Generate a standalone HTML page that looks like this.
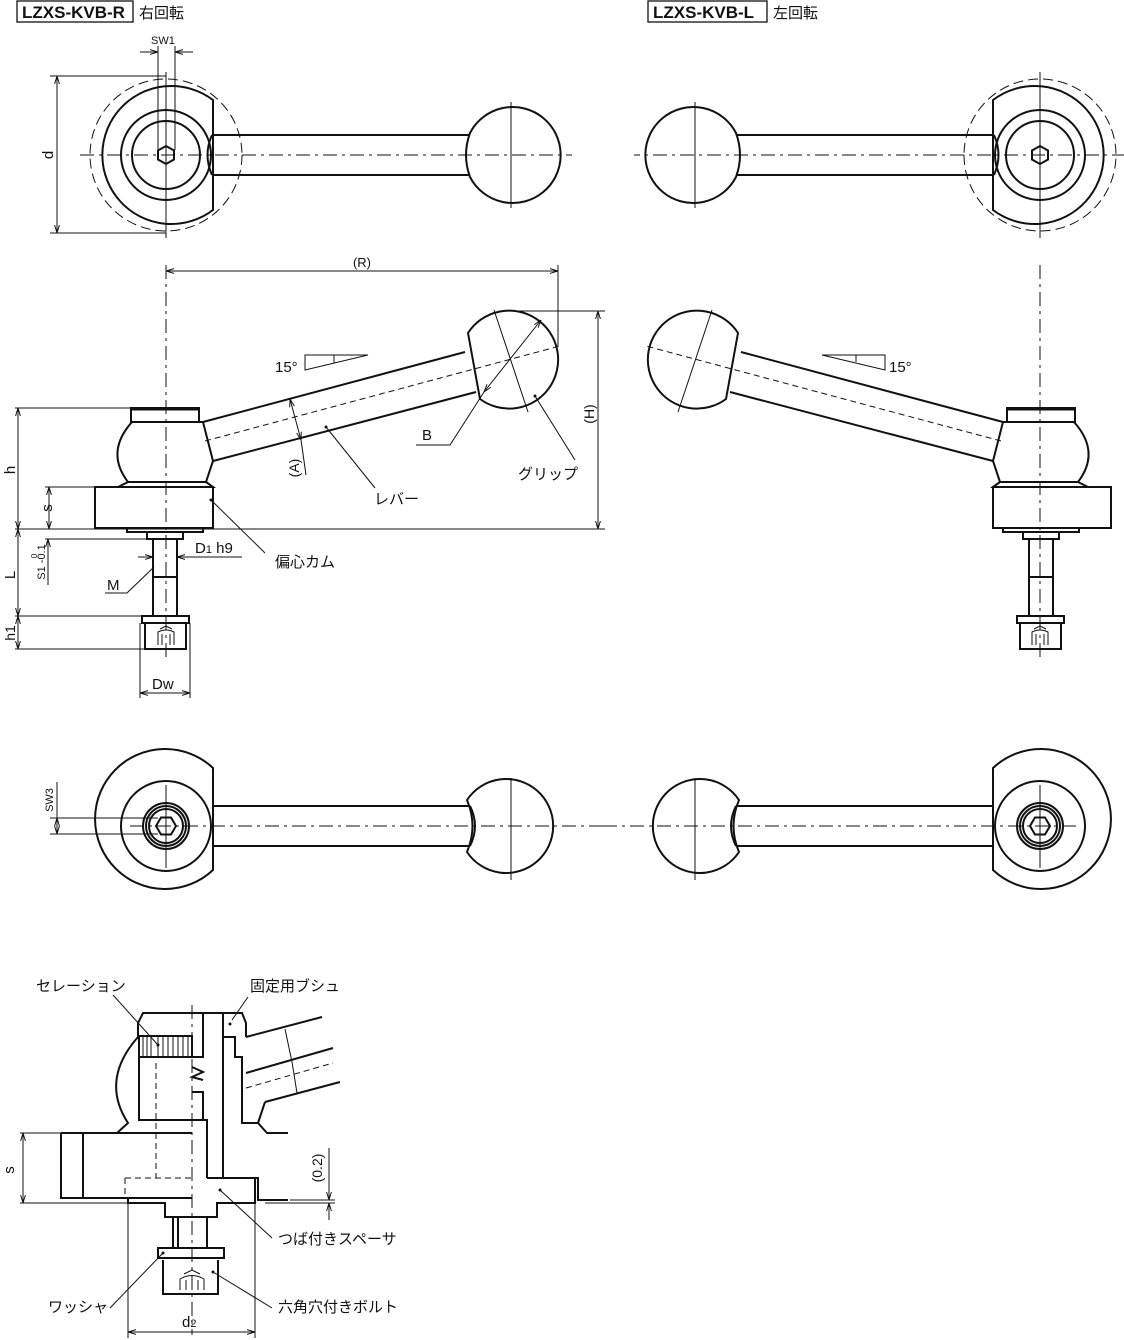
<!DOCTYPE html>
<html><head><meta charset="utf-8"><style>
html,body{margin:0;padding:0;background:#fff;}
svg{display:block;}
text{font-family:"Liberation Sans","Noto Sans CJK JP",sans-serif;fill:#111;}
.o{fill:none;stroke:#111;stroke-width:2;}
.t{fill:none;stroke:#111;stroke-width:1;}
.d{fill:none;stroke:#111;stroke-width:1;stroke-dasharray:14 5 3 5;}
.h{fill:none;stroke:#111;stroke-width:1;stroke-dasharray:6 4;}
.w{fill:#fff;stroke:#111;stroke-width:2;}
</style></head><body>
<svg width="1124" height="1340" viewBox="0 0 1124 1340" xmlns="http://www.w3.org/2000/svg">
<defs>
<marker id="a" viewBox="0 0 10 10" refX="10" refY="5" markerWidth="8" markerHeight="8" orient="auto-start-reverse"><path d="M0,2 L10,5 L0,8" fill="none" stroke="#111" stroke-width="1.2"/></marker>
<g id="top">
 <circle cx="166" cy="155" r="76" class="t" stroke-dasharray="10 5" />
 <path d="M213,100 A69,69 0 1 0 213,210 Z" class="o"/>
 <circle cx="166" cy="155" r="45" class="o"/>
 <circle cx="166" cy="155" r="34" class="o" stroke-width="3"/>
 <polygon points="166,146 174,150.5 174,159.5 166,164 158,159.5 158,150.5" class="o" stroke-width="1.3"/>
 <path d="M212,135 L470,135 M212,175 L470,175" class="o"/>
 <path d="M212,135 Q203,155 212,175" class="o"/>
 <path d="M470,133 A48,48 0 1 1 470,177 Q462,155 470,133 Z" class="o"/>
 <line x1="80" y1="155" x2="572" y2="155" class="d"/>
 <line x1="166" y1="72" x2="166" y2="238" class="t"/>
 <line x1="511" y1="102" x2="511" y2="208" class="t"/>
</g>
<g id="side">
 <line x1="166" y1="265" x2="166" y2="660" class="d"/>
 <rect x="131" y="408" width="68" height="14" class="o"/>
 <line x1="131" y1="409" x2="199" y2="409" stroke="#111" stroke-width="3"/>
 <path d="M132,422 Q105,452 128,482 L206,482 L213,461 L203,422 Z" class="o"/>
 <path d="M128,482 L118,487 L213,487 L206,482" class="o"/>
 <rect x="95" y="487" width="118" height="41" class="o"/>
 <rect x="127" y="528" width="76" height="4" class="o"/>
 <rect x="147" y="532" width="36" height="7" class="o"/>
 <path d="M153,539 L153,616 M177,539 L177,616 M153,577 L177,577" class="o"/>
 <rect x="142" y="616" width="47" height="7" class="o"/>
 <path d="M145,623 L145,649 L186,649 L186,623" class="o"/>
 <path d="M158,645 L158,632 Q166,628 174,632 L174,645 M162,645 L162,634 M170,645 L170,634 M160,629 L166,626 L172,629" class="t"/>
 <path d="M203,422 L465,352 M213,461 L476,392" class="o"/>
 <path d="M468,333 A49,49 0 1 1 480,399 L468,333 Z" class="o"/>
 <line x1="205" y1="441" x2="560" y2="346" class="h"/>
 <line x1="494" y1="310" x2="528" y2="412" class="t"/>
</g>
<g id="bot">
 <path d="M213,768 A70,70 0 1 0 213,870 Z" class="o"/>
 <circle cx="166" cy="826" r="45" class="o"/>
 <circle cx="166" cy="826" r="23" class="o"/>
 <circle cx="166" cy="826" r="20" class="o"/>
 <circle cx="166" cy="826" r="17" class="o"/>
 <polygon points="156,826 161,817.5 171,817.5 176,826 171,834.5 161,834.5" class="o" stroke-width="1.3"/>
 <path d="M213,806 L470,806 M213,846 L470,846" class="o"/>
 <path d="M470,806 Q480,826 470,846" class="o"/>
 <path d="M467,800 A47,47 0 1 1 467,852 Q478,826 467,800 Z" class="o"/>
 <line x1="130" y1="826" x2="605" y2="826" class="d"/>
 <line x1="166" y1="785" x2="166" y2="868" class="t"/>
 <line x1="511" y1="778" x2="511" y2="880" class="t"/>
</g>
</defs>

<!-- titles -->
<rect x="17" y="1" width="116" height="21" fill="none" stroke="#111" stroke-width="1.3"/>
<text x="22" y="18" font-size="17" font-weight="bold">LZXS-KVB-R</text>
<text x="139" y="18" font-size="15">右回転</text>
<rect x="648" y="1" width="119" height="21" fill="none" stroke="#111" stroke-width="1.3"/>
<text x="653" y="18" font-size="17" font-weight="bold">LZXS-KVB-L</text>
<text x="773" y="18" font-size="15">左回転</text>

<use href="#top"/>
<use href="#top" transform="translate(1206,0) scale(-1,1)"/>
<use href="#side"/>
<use href="#side" transform="translate(1206,0) scale(-1,1)"/>
<use href="#bot"/>
<use href="#bot" transform="translate(1206,0) scale(-1,1)"/>

<!-- top view dims -->
<text x="151" y="44" font-size="11">SW1</text>
<path d="M158,46 L158,150 M175,46 L175,150" class="t"/>
<line x1="140" y1="52" x2="158" y2="52" class="t" marker-end="url(#a)"/>
<line x1="193" y1="52" x2="175" y2="52" class="t" marker-end="url(#a)"/>
<path d="M50,76 L166,76 M50,233 L166,233" class="t"/>
<line x1="57" y1="76" x2="57" y2="233" class="t" marker-start="url(#a)" marker-end="url(#a)"/>
<text x="0" y="0" font-size="15" transform="translate(53,155) rotate(-90)" text-anchor="middle">d</text>

<!-- side view dims left -->
<line x1="166" y1="271" x2="558" y2="271" class="t" marker-start="url(#a)" marker-end="url(#a)"/>
<line x1="558" y1="265" x2="558" y2="346" class="t"/>
<text x="362" y="267" font-size="13" text-anchor="middle">(R)</text>
<path d="M510,311 L605,311 M15,529 L605,529" class="t"/>
<line x1="598" y1="311" x2="598" y2="529" class="t" marker-start="url(#a)" marker-end="url(#a)"/>
<text x="0" y="0" font-size="14" transform="translate(594,414) rotate(-90)" text-anchor="middle">(H)</text>
<line x1="484" y1="392" x2="541" y2="320" class="t" marker-start="url(#a)" marker-end="url(#a)"/>
<path d="M416,445 L450,445 L484,392" class="t"/>
<text x="422" y="440" font-size="15">B</text>
<path d="M535,396 L575,460" class="t"/><circle cx="535" cy="396" r="1.5" fill="#111"/>
<text x="518" y="479" font-size="15">グリップ</text>
<path d="M326,427 L375,488" class="t"/><circle cx="326" cy="427" r="1.5" fill="#111"/>
<text x="374" y="504" font-size="15">レバー</text>
<path d="M305,355 L368,355 L305,370 Z M334,355 L334,363" class="t"/>
<text x="275" y="372" font-size="15">15°</text>
<line x1="290" y1="399" x2="301" y2="440" class="t" marker-start="url(#a)" marker-end="url(#a)"/>
<line x1="301" y1="440" x2="306" y2="475" class="t"/>
<text x="0" y="0" font-size="14" transform="translate(299,468) rotate(-90)" text-anchor="middle">(A)</text>
<path d="M15,408 L131,408 M45,487 L95,487" class="t"/>
<line x1="18" y1="408" x2="18" y2="529" class="t" marker-start="url(#a)" marker-end="url(#a)"/>
<text x="0" y="0" font-size="15" transform="translate(15,470) rotate(-90)" text-anchor="middle">h</text>
<line x1="49" y1="487" x2="49" y2="529" class="t" marker-start="url(#a)" marker-end="url(#a)"/>
<text x="0" y="0" font-size="15" transform="translate(52,508) rotate(-90)" text-anchor="middle">s</text>
<path d="M211,500 L265,553" class="t"/><circle cx="211" cy="500" r="1.5" fill="#111"/>
<text x="275" y="567" font-size="15">偏心カム</text>
<path d="M45,539 L147,539" class="t"/>
<line x1="48" y1="539" x2="48" y2="585" class="t" marker-start="url(#a)"/>
<text x="0" y="0" font-size="11" transform="translate(45,562) rotate(-90)" text-anchor="middle">S1 -0.1</text>
<text x="0" y="0" font-size="8" transform="translate(37,556) rotate(-90)" text-anchor="middle">0</text>
<line x1="138" y1="557" x2="153" y2="557" class="t" marker-end="url(#a)"/>
<line x1="242" y1="557" x2="177" y2="557" class="t" marker-end="url(#a)"/>
<text x="195" y="553" font-size="15">D<tspan font-size="11">1</tspan> h9</text>
<path d="M105,593 L127,593 L154,567" class="t"/>
<text x="107" y="590" font-size="15">M</text>
<path d="M15,616 L142,616 M15,649 L145,649" class="t"/>
<line x1="18" y1="529" x2="18" y2="616" class="t" marker-start="url(#a)" marker-end="url(#a)"/>
<text x="0" y="0" font-size="15" transform="translate(15,575) rotate(-90)" text-anchor="middle">L</text>
<line x1="18" y1="616" x2="18" y2="649" class="t" marker-start="url(#a)" marker-end="url(#a)"/>
<text x="0" y="0" font-size="14" transform="translate(15,633) rotate(-90)" text-anchor="middle">h1</text>
<path d="M140,623 L140,698 M190,623 L190,698" class="t"/>
<line x1="140" y1="693" x2="190" y2="693" class="t" marker-start="url(#a)" marker-end="url(#a)"/>
<text x="152" y="689" font-size="15">Dw</text>

<!-- bottom view dims -->
<path d="M50,818 L158,818 M50,834 L158,834" class="t"/>
<line x1="57" y1="818" x2="57" y2="834" class="t" marker-start="url(#a)" marker-end="url(#a)"/>
<line x1="57" y1="782" x2="57" y2="818" class="t"/>
<text x="0" y="0" font-size="11" transform="translate(53,800) rotate(-90)" text-anchor="middle">SW3</text>

<!-- section view -->
<g>
 <line x1="192" y1="1005" x2="192" y2="1335" class="d"/>
 <path d="M138,1037 L138,1023 L143,1013 L242,1013 L246,1023 L246,1037" class="o"/>
 <path d="M203,1013 L203,1036 M223,1013 L223,1037" class="o"/>
 <path d="M139,1036 L192,1036 L192,1057 L139,1057 Z" class="o"/>
 <path d="M143,1036 V1057 M147,1036 V1057 M151,1036 V1057 M158,1036 V1057 M163,1036 V1057 M168,1036 V1057 M173,1036 V1057 M178,1036 V1057 M183,1036 V1057 M188,1036 V1057" class="t"/>
 <path d="M139,1057 L139,1120 L192,1120" class="o"/>
 <path d="M138,1037 Q100,1080 128,1123 L117,1133" class="o"/>
 <path d="M192,1057 L203,1057 L203,1036 M192,1067 L203,1072 L192,1077 L203,1080 M192,1092 L203,1092 L203,1120 L192,1120 M203,1120 L207,1120 L207,1178" class="o"/>
 <path d="M223,1037 L223,1177 M223,1037 L235,1037 L235,1057 L242,1057 L242,1123 L258,1123 L267,1133 L288,1133" class="o"/>
 <path d="M246,1037 L322,1017 M246,1073 L333,1048 M265,1102 L340,1082 M258,1123 L265,1102" class="o"/>
 <line x1="246" y1="1088" x2="333" y2="1063" class="h"/>
 <path d="M285,1029 L292,1062 L297,1093" class="t"/>
 <path d="M117,1133 L192,1133 M61,1133 L61,1198 L192,1198 M83,1133 L83,1198 M61,1133 L117,1133" class="o"/>
 <path d="M156,1063 L156,1178 M125,1178 L192,1178 M125,1178 L125,1195" class="h"/>
 <path d="M128,1198 L128,1203 L165,1203 L165,1217 L217,1217 L217,1203 L255,1203 L255,1178 L207,1178 M223,1178 L258,1178 L258,1200 L288,1200" class="o"/>
 <path d="M173,1217 L173,1248 M207,1217 L207,1248 M178,1217 L178,1248" class="o"/>
 <rect x="158" y="1248" width="66" height="10" class="o"/>
 <path d="M163,1260 L163,1294 L218,1294 L218,1260" class="o"/>
 <path d="M180,1290 L180,1279 Q192,1272 204,1279 L204,1290 M186,1290 L186,1280 M192,1290 L192,1278 M198,1290 L198,1280 M184,1274 L192,1270 L200,1274" class="t"/>
 <path d="M20,1133 L61,1133 M20,1203 L128,1203" class="t"/>
 <line x1="23" y1="1133" x2="23" y2="1203" class="t" marker-start="url(#a)" marker-end="url(#a)"/>
 <text x="0" y="0" font-size="15" transform="translate(14,1170) rotate(-90)" text-anchor="middle">s</text>
 <path d="M290,1200 L335,1200 M265,1203 L335,1203" class="t"/>
 <line x1="329" y1="1148" x2="329" y2="1200" class="t" marker-end="url(#a)"/>
 <line x1="329" y1="1220" x2="329" y2="1203" class="t" marker-end="url(#a)"/>
 <text x="0" y="0" font-size="14" transform="translate(322,1168) rotate(-90)" text-anchor="middle">(0.2)</text>
 <path d="M128,1203 L128,1338 M255,1203 L255,1338" class="t"/>
 <line x1="128" y1="1332" x2="255" y2="1332" class="t" marker-start="url(#a)" marker-end="url(#a)"/>
 <text x="182" y="1327" font-size="15">d<tspan font-size="11">2</tspan></text>
 <text x="36" y="991" font-size="15">セレーション</text>
 <path d="M113,995 L158,1045" class="t"/><circle cx="158" cy="1045" r="1.5" fill="#111"/>
 <text x="250" y="991" font-size="15">固定用ブシュ</text>
 <path d="M248,997 L232,1020" class="t"/><circle cx="230" cy="1024" r="1.5" fill="#111"/>
 <text x="278" y="1244" font-size="15">つば付きスペーサ</text>
 <path d="M220,1190 L272,1238" class="t"/><circle cx="220" cy="1190" r="1.5" fill="#111"/>
 <text x="48" y="1312" font-size="15">ワッシャ</text>
 <path d="M110,1308 L163,1253" class="t"/><circle cx="163" cy="1253" r="1.5" fill="#111"/>
 <text x="278" y="1312" font-size="15">六角穴付きボルト</text>
 <path d="M213,1272 L272,1308" class="t"/><circle cx="213" cy="1272" r="1.5" fill="#111"/>
</g>

<!-- right side view label -->
<path d="M822,355 L885,355 L885,370 Z M856,355 L856,362" class="t"/>
<text x="889" y="372" font-size="15">15°</text>
</svg>
</body></html>
